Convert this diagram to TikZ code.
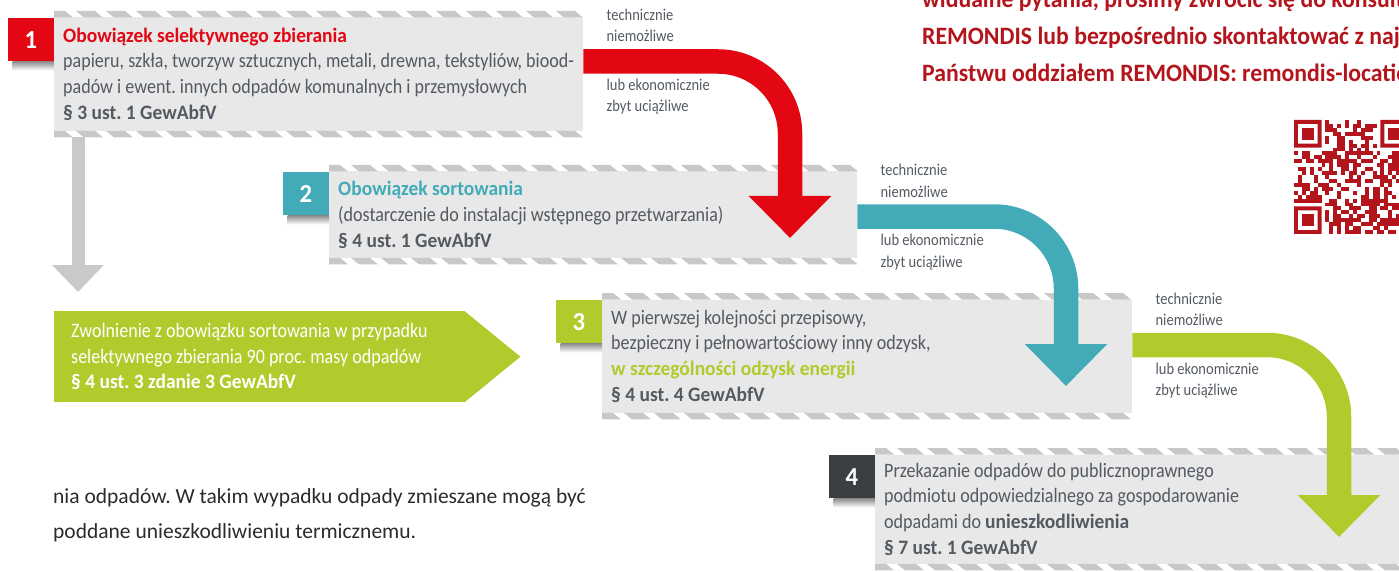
\documentclass[tikz,border=0pt]{standalone}
\usepackage{fontspec}
\setmainfont{Carlito}[FakeStretch=0.88, BoldFeatures={FakeStretch=0.95}]
\newfontfamily\tailfamily{Carlito}
\usetikzlibrary{positioning,calc,arrows.meta}
\frenchspacing

\definecolor{rred}{HTML}{E30613}
\definecolor{rteal}{HTML}{42ABB7}
\definecolor{rlime}{HTML}{B0CB2B}
\definecolor{rdark}{HTML}{3B3E43}
\definecolor{boxgray}{HTML}{E8E8E8}
\definecolor{stripegray}{HTML}{C8C8C8}
\definecolor{textgray}{HTML}{535A62}
\definecolor{arrowgray}{HTML}{C9C9C9}
\definecolor{darkred}{HTML}{B4141C}
\definecolor{inktext}{HTML}{2B2B2B}

\newcommand\bodyfont{\fontsize{20.5}{25.7}\selectfont}
\newcommand\notefont{\fontsize{16.5}{21.5}\selectfont}
\newcommand\numfont{\fontsize{26}{26}\selectfont\bfseries}
\newcommand\contactfont{\fontsize{25}{37}\selectfont\bfseries}
\newcommand\tailfont{\tailfamily\fontsize{21.5}{35}\selectfont}

\newcommand\hatchbox[1]{%
  \foreach \l/\r/\d in {north west/north east/0, south west/south east/-6.5}{
    \begin{scope}
      \path ($(#1.\l)+(0,\d)$) coordinate (hl) ($(#1.\r)+(0,\d+6.5)$) coordinate (hr);
      \clip (hl) rectangle (hr);
      \fill[white] (hl) rectangle (hr);
      \foreach \k in {0,...,19}
        \fill[stripegray] ($(hl)+(\k*30-8,0)$) -- ++(19,0) -- ++(8,6.5) -- ++(-19,0) -- cycle;
    \end{scope}}}

\begin{document}
\begin{tikzpicture}[x=1pt, y=-1pt,
  stepbox/.style={anchor=north west, fill=boxgray, inner xsep=9pt, inner ysep=0pt, align=flush left, text=textgray, font=\bodyfont},
  numbox/.style={anchor=north east, minimum width=46pt, minimum height=43pt, inner sep=0pt, text=white, font=\numfont},
  bigarrow/.style={line width=24.5pt, rounded corners=72pt, -{Triangle[length=42pt,width=80pt]}},
  note/.style={anchor=base west, inner sep=0pt, align=left, text=textgray, font=\notefont}]
\useasboundingbox (0,0) rectangle (1399,572);

\node[stepbox, minimum width=529pt, minimum height=126pt, text width=511pt] (collect) at (54,11) {{\color{rred}\bfseries Obowiązek selektywnego zbierania}\\\mbox{papieru, szkła, tworzyw sztucznych, metali, drewna, tekstyliów, biood-}\\padów i ewent. innych odpadów komunalnych i przemysłowych\\\textbf{§ 3 ust. 1 GewAbfV}};
\node[stepbox, minimum width=528pt, minimum height=99pt, text width=510pt] (sort) at (329,165) {{\color{rteal}\bfseries Obowiązek sortowania}\\(dostarczenie do instalacji wstępnego przetwarzania)\\\textbf{§ 4 ust. 1 GewAbfV}};
\node[stepbox, minimum width=530pt, minimum height=126pt, text width=512pt] (recover) at (602,293) {W pierwszej kolejności przepisowy,\\bezpieczny i pełnowartościowy inny odzysk,\\{\color{rlime}\bfseries w szczególności odzysk energii}\\\textbf{§ 4 ust. 4 GewAbfV}};
\node[stepbox, minimum width=560pt, minimum height=122pt, text width=542pt] (hand) at (875,448) {Przekazanie odpadów do publicznoprawnego\\podmiotu odpowiedzialnego za gospodarowanie\\odpadami do \textbf{unieszkodliwienia}\\\textbf{§ 7 ust. 1 GewAbfV}};

\foreach \b in {collect, sort, recover, hand} {\hatchbox{\b}}

\node[numbox, fill=rred] (n1) at ($(collect.north west)+(0,7)$) {1};
\node[numbox, fill=rteal] (n2) at ($(sort.north west)+(0,7)$) {2};
\node[numbox, fill=rlime] (n3) at ($(recover.north west)+(0,7)$) {3};
\node[numbox, fill=rdark] (n4) at ($(hand.north west)+(0,7)$) {4};
\foreach \n in {n1, n2, n3, n4}
  \shade[top color=black!45, bottom color=white] ($(\n.south west)+(5,0)$) rectangle ($(\n.south east)+(0,9)$);

\node[anchor=north west, fill=rlime, minimum width=411pt, minimum height=91pt, inner xsep=17pt, inner ysep=0pt, text width=377pt, align=flush left, text=white, font=\bodyfont] (exempt) at (54,311) {Zwolnienie z obowiązku sortowania w przypadku\\selektywnego zbierania 90 proc. masy odpadów\\\textbf{§ 4 ust. 3 zdanie 3 GewAbfV}};
\fill[rlime] ($(exempt.north east)+(-1,0)$) -- ($(exempt.east)+(55,0)$) -- ($(exempt.south east)+(-1,0)$) -- cycle;

\draw[line width=13pt, arrowgray, shorten >=19pt, -{Triangle[length=27pt,width=50pt]}] ($(collect.south west)+(24,0)$) -- ($(exempt.north west)+(24,0)$);

\coordinate (b1) at ($(collect.north east)+(0,50.5)$);
\coordinate (b2) at ($(sort.north east)+(0,51.5)$);
\coordinate (b3) at ($(recover.north east)+(0,52)$);
\coordinate (tip1) at (790,238);
\coordinate (tip2) at (1066,386);
\coordinate (tip3) at (1339,537);
\draw[bigarrow, rred] (b1) -| (tip1);
\draw[bigarrow, rteal] (b2) -| (tip2);
\draw[bigarrow, rlime] (b3) -| (tip3);

\foreach \i in {1,2,3} {
  \node[note] (up\i) at ($(b\i)+(23,-19.5)$) {technicznie\\niemożliwe};
  \node[note] (lo\i) at ($(b\i)+(23,50.5)$) {lub ekonomicznie\\zbyt uciążliwe};
}

\node[anchor=base west, inner sep=0pt, align=left, text=darkred, font=\contactfont] (contact) at (922,82) {widualne pytania, prosimy zwrócić się do konsultantów\\REMONDIS lub bezpośrednio skontaktować z najbliższym\\Państwu oddziałem REMONDIS: remondis-locations.pl};
\node[anchor=base west, inner sep=0pt, align=left, text=inktext, font=\tailfont] (tail) at (53,538) {nia odpadów. W takim wypadku odpady zmieszane mogą być\\poddane unieszkodliwieniu termicznemu.};

\pgfmathsetseed{7}
\foreach \i in {0,...,28} {
  \foreach \j in {0,...,28} {
    \pgfmathrandominteger{\bit}{0}{1}
    \pgfmathtruncatemacro\on{((\i<8 && \j<8) || (\i>20 && \j<8) || (\i<8 && \j>20)) ? 0 : \bit}
    \ifnum\on>0 \fill[darkred] (1294+\i*3.93,120+\j*3.93) rectangle ++(3.93,3.93); \fi
  }
}
\foreach \qx/\qy in {0/0, 22/0, 0/22} {
  \fill[darkred, even odd rule] (1294+\qx*3.93,120+\qy*3.93) rectangle ++(27.51,27.51) (1294+\qx*3.93+3.93,120+\qy*3.93+3.93) rectangle ++(19.65,19.65);
  \fill[darkred] (1294+\qx*3.93+7.86,120+\qy*3.93+7.86) rectangle ++(11.79,11.79);
}
\end{tikzpicture}
\end{document}
